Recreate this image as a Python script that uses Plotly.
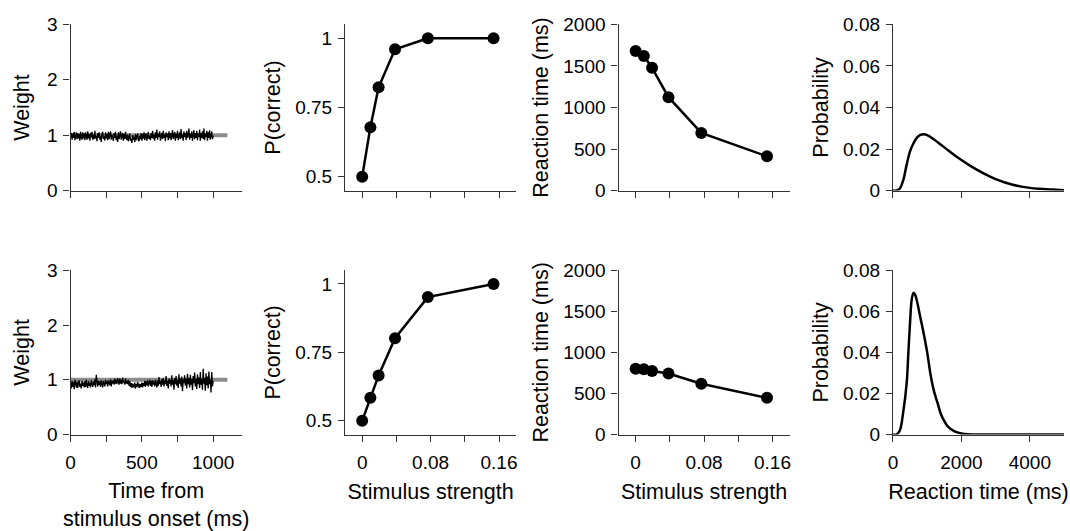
import plotly.graph_objects as go

# ---------------------------------------------------------------- data
# Stimulus strengths used in the psychometric / chronometric panels
strength = [0, 0.0096, 0.0192, 0.0384, 0.0768, 0.1536]

# Row 1 (top) and row 2 (bottom) accuracy
p_correct_top = [0.50, 0.679, 0.823, 0.960, 1.00, 1.00]
p_correct_bot = [0.50, 0.584, 0.666, 0.802, 0.952, 1.00]

# Mean reaction times (ms)
rt_top = [1679, 1621, 1477, 1124, 694, 412]
rt_bot = [801, 794, 774, 743, 619, 447]

# Reaction-time distributions
rt_axis_top = [0, 100, 200, 300, 400, 500, 600, 700, 800, 900, 1000, 1200, 1400,
               1600, 1800, 2000, 2250, 2500, 2750, 3000, 3250, 3500, 3750, 4000,
               4250, 4500, 4750, 5000]
rt_prob_top = [0, 0, 0.001, 0.005, 0.0125, 0.019, 0.0228, 0.0255, 0.0268, 0.0271,
               0.0267, 0.0246, 0.0221, 0.0195, 0.0170, 0.0147, 0.0120, 0.0096,
               0.0074, 0.0055, 0.0040, 0.0028, 0.0019, 0.0013, 0.0009, 0.0006,
               0.0004, 0.0002]

rt_axis_bot = [0, 100, 200, 300, 400, 450, 500, 550, 600, 650, 700, 800, 900, 1000,
               1100, 1200, 1300, 1400, 1500, 1600, 1800, 2000, 2200, 2500, 3000,
               4000, 5000]
rt_prob_bot = [0, 0, 0.002, 0.011, 0.025, 0.040, 0.055, 0.066, 0.069, 0.068, 0.065,
               0.057, 0.049, 0.040, 0.029, 0.021, 0.0155, 0.010, 0.0065, 0.004,
               0.0015, 0.0005, 0.0001, 0, 0, 0, 0]

# Recovered weights over time (5 ms bins, 0..1000 ms)
weight_time = list(range(0, 1001, 5))
weight_top = [
    0.97, 1.04, 0.92, 1.03, 0.95, 1.06, 0.91, 1.01, 1.05, 0.93, 1.04, 0.94, 1.02, 0.90, 1.06, 0.96, 0.92, 1.05, 0.94, 1.03,
    0.91, 1.05, 0.97, 0.92, 1.07, 0.94, 1.02, 0.90, 1.04, 0.96, 1.06, 0.92, 1.01, 0.93, 1.08, 0.94, 0.99, 0.89, 1.04, 0.95,
    1.05, 0.92, 0.99, 0.88, 1.03, 1.06, 0.93, 0.98, 0.90, 1.05, 0.94, 1.02, 0.91, 1.06, 0.93, 0.99, 1.07, 0.92, 1.01, 0.95,
    0.90, 1.04, 0.95, 1.06, 0.91, 0.99, 0.88, 1.05, 0.93, 1.01, 1.07, 0.92, 0.96, 1.04, 0.90, 1.02, 0.93, 1.06, 0.95, 0.91,
    1.01, 0.89, 0.96, 1.03, 0.90, 0.94, 0.86, 1.00, 0.92, 0.97, 0.88, 1.02, 0.91, 0.96, 1.03, 0.91, 0.89, 0.99, 0.93, 1.04,
    0.90, 1.02, 0.94, 1.05, 0.91, 0.99, 1.03, 0.90, 1.01, 1.06, 0.93, 0.99, 0.91, 1.04, 0.95, 1.08, 0.93, 1.01, 0.90, 1.05,
    0.95, 1.10, 0.92, 1.03, 0.97, 1.07, 0.90, 1.01, 1.04, 0.93, 1.08, 0.95, 1.01, 0.89, 1.05, 0.97, 1.03, 0.91, 1.07, 0.94,
    1.04, 0.91, 1.00, 1.09, 0.93, 0.98, 1.06, 0.90, 1.03, 0.95, 1.08, 0.91, 1.00, 1.05, 0.93, 1.11, 0.95, 1.01, 0.90, 1.07,
    0.97, 1.04, 0.91, 1.08, 0.95, 1.00, 1.12, 0.92, 1.03, 0.95, 1.07, 0.90, 1.01, 1.09, 0.93, 1.04, 0.95, 1.08, 0.91, 1.03,
    0.97, 1.10, 0.90, 1.04, 0.95, 1.07, 0.93, 1.12, 0.91, 1.03, 0.97, 1.08, 0.90, 1.05, 0.95, 1.09, 0.92, 1.01, 1.07, 0.93,
    0.99,
]
weight_bot = [
    0.95, 0.84, 0.98, 0.87, 0.96, 0.83, 1.00, 0.89, 0.86, 0.97, 0.85, 0.94, 0.99, 0.87, 0.93, 0.84, 0.98, 0.89, 0.95, 0.86,
    0.97, 0.87, 1.00, 0.90, 0.85, 0.98, 0.89, 0.95, 0.86, 0.99, 0.93, 0.87, 0.97, 0.90, 1.01, 0.86, 1.09, 0.93, 0.88, 0.98,
    0.90, 0.97, 0.87, 0.99, 0.92, 0.86, 0.98, 0.94, 0.88, 1.00, 0.92, 0.97, 0.88, 0.99, 0.94, 0.90, 1.01, 0.88, 0.98, 0.93,
    0.99, 0.91, 1.02, 0.93, 1.00, 0.92, 1.03, 0.95, 0.91, 1.02, 0.93, 1.00, 0.92, 1.04, 0.95, 0.97, 0.91, 1.02, 0.93, 0.98,
    0.92, 1.00, 0.89, 0.97, 0.87, 0.94, 0.85, 0.93, 0.89, 0.86, 0.95, 0.84, 0.92, 0.87, 0.96, 0.86, 0.93, 0.85, 0.92, 0.87,
    0.95, 0.86, 0.94, 0.89, 0.98, 0.87, 0.97, 0.90, 0.99, 0.88, 0.94, 1.00, 0.89, 0.98, 0.87, 0.99, 0.91, 0.97, 0.88, 1.00,
    0.93, 0.86, 0.99, 0.89, 1.05, 0.92, 0.98, 0.87, 1.01, 0.91, 1.03, 0.88, 0.99, 0.92, 1.07, 0.89, 0.98, 0.84, 1.02, 0.93,
    1.00, 0.88, 1.08, 0.91, 0.99, 0.82, 1.03, 0.92, 1.07, 0.89, 1.00, 0.85, 1.10, 0.93, 1.02, 0.88, 1.06, 0.79, 1.01, 0.94,
    1.08, 0.89, 1.02, 0.84, 1.11, 0.92, 1.03, 0.86, 1.09, 0.91, 1.01, 0.81, 1.07, 0.94, 1.13, 0.88, 1.02, 0.83, 1.10, 0.92,
    1.04, 0.85, 1.14, 0.91, 1.01, 0.82, 1.20, 0.93, 1.03, 0.80, 1.12, 0.90, 1.06, 0.84, 1.15, 0.92, 1.00, 0.77, 1.14, 0.88,
    0.98,
]

# True weight reference line
ref_time = [0, 1100]
ref_weight = [1, 1]

# Tick definitions
weight_xticks = [0, 250, 500, 750, 1000]
weight_xlabels = ["0", "", "500", "", "1000"]
weight_yticks = [0, 1, 2, 3]
strength_ticks = [0, 0.04, 0.08, 0.12, 0.16]
strength_labels = ["0", "", "0.08", "", "0.16"]
pc_ticks = [0.5, 0.75, 1]
pc_labels = ["0.5", "0.75", "1"]
rt_ticks = [0, 500, 1000, 1500, 2000]
dist_xticks = [0, 2000, 4000]
dist_yticks = [0, 0.02, 0.04, 0.06, 0.08]
dist_ylabels = ["0", "0.02", "0.04", "0.06", "0.08"]

# ---------------------------------------------------------------- figure
W, H = 1070, 531
FONT = "Liberation Sans, Arial, sans-serif"
TICK_SIZE = 19
TITLE_SIZE = 21.5
AXCOL = "#333333"

col_px = [(66, 238), (342, 514), (617, 789), (893, 1065)]
row_px = [(15, 188), (271, 442)]

fig = go.Figure()


def ref(row, col, letter):
    n = row * 4 + col + 1
    return letter + ("" if n == 1 else str(n))


line_style = dict(color="black", width=2.5)
marker_style = dict(color="black", size=12)

for r in range(2):
    xa, ya = ref(r, 0, "x"), ref(r, 0, "y")
    fig.add_trace(go.Scatter(x=ref_time, y=ref_weight, mode="lines",
                             line=dict(color="#8c8c8c", width=4),
                             xaxis=xa, yaxis=ya, showlegend=False))
    fig.add_trace(go.Scatter(x=weight_time, y=[weight_top, weight_bot][r], mode="lines",
                             line=dict(color="black", width=1.3),
                             xaxis=xa, yaxis=ya, showlegend=False))

    xa, ya = ref(r, 1, "x"), ref(r, 1, "y")
    fig.add_trace(go.Scatter(x=strength, y=[p_correct_top, p_correct_bot][r],
                             mode="lines+markers", line=line_style, marker=marker_style,
                             xaxis=xa, yaxis=ya, showlegend=False, cliponaxis=False))

    xa, ya = ref(r, 2, "x"), ref(r, 2, "y")
    fig.add_trace(go.Scatter(x=strength, y=[rt_top, rt_bot][r],
                             mode="lines+markers", line=line_style, marker=marker_style,
                             xaxis=xa, yaxis=ya, showlegend=False, cliponaxis=False))

    xa, ya = ref(r, 3, "x"), ref(r, 3, "y")
    fig.add_trace(go.Scatter(x=[rt_axis_top, rt_axis_bot][r], y=[rt_prob_top, rt_prob_bot][r],
                             mode="lines", line=dict(color="black", width=2.5, shape="spline"),
                             xaxis=xa, yaxis=ya, showlegend=False, cliponaxis=False))

common = dict(showline=True, linecolor=AXCOL, linewidth=1.3, ticks="outside",
              ticklen=6, tickwidth=1.3, tickcolor=AXCOL, showgrid=False,
              zeroline=False, tickfont=dict(family=FONT, size=TICK_SIZE, color="black"),
              fixedrange=True)

layout = {}
for r in range(2):
    y0, y1 = row_px[r]
    ydom = [1 - y1 / H, 1 - y0 / H]
    bottom = r == 1
    for c in range(4):
        x0, x1 = col_px[c]
        xdom = [x0 / W, x1 / W]
        xk = "xaxis" + ("" if r * 4 + c == 0 else str(r * 4 + c + 1))
        yk = "yaxis" + ("" if r * 4 + c == 0 else str(r * 4 + c + 1))
        xa = dict(common, domain=xdom, anchor=ref(r, c, "y"), ticklabelstandoff=5)
        ya = dict(common, domain=ydom, anchor=ref(r, c, "x"), ticklabelstandoff=2)
        ttl = dict(font=dict(family=FONT, size=TITLE_SIZE, color="black"))
        if c == 0:
            xa.update(range=[0, 1200], tickvals=weight_xticks, ticktext=weight_xlabels)
            ya.update(range=[0, 3], tickvals=weight_yticks)
            ya["title"] = dict(ttl, text="Weight", standoff=11)
            if bottom:
                xa["title"] = dict(ttl, text="Time from<br>stimulus onset (ms)", standoff=11)
        elif c == 1:
            xa.update(range=[-0.02, 0.18], tickvals=strength_ticks, ticktext=strength_labels)
            ya.update(range=[0.45, 1.05], tickvals=pc_ticks, ticktext=pc_labels)
            ya["title"] = dict(ttl, text="P(correct)", standoff=8)
            if bottom:
                xa["title"] = dict(ttl, text="Stimulus strength", standoff=11)
        elif c == 2:
            xa.update(range=[-0.02, 0.18], tickvals=strength_ticks, ticktext=strength_labels)
            ya.update(range=[0, 2000], tickvals=rt_ticks)
            ya["title"] = dict(ttl, text="Reaction time (ms)", standoff=8)
            if bottom:
                xa["title"] = dict(ttl, text="Stimulus strength", standoff=11)
        else:
            xa.update(range=[0, 5000], tickvals=dist_xticks)
            ya.update(range=[0, 0.08], tickvals=dist_yticks, ticktext=dist_ylabels)
            ya["title"] = dict(ttl, text="Probability", standoff=8)
            if bottom:
                xa["title"] = dict(ttl, text="Reaction time (ms)", standoff=11)
        xa["showticklabels"] = bottom
        layout[xk] = xa
        layout[yk] = ya

fig.update_layout(**layout)
fig.update_layout(width=W, height=H, margin=dict(l=0, r=0, t=0, b=0),
                  paper_bgcolor="white", plot_bgcolor="white",
                  font=dict(family=FONT, color="black"), showlegend=False)

fig.write_html("out.html", config={"displayModeBar": False})
